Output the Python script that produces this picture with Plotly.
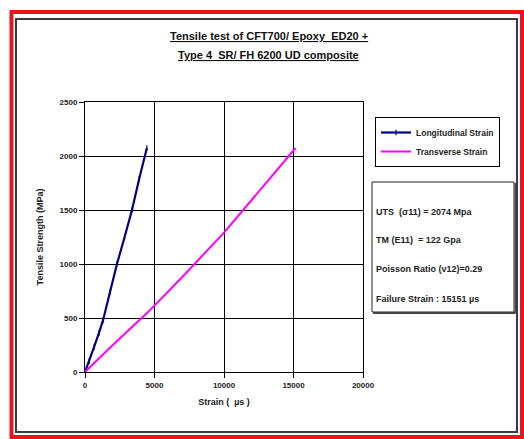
import plotly.graph_objects as go

# ---------------- data ----------------
long_strain = [0, 300, 650, 1000, 1300, 1800, 2300, 2850, 3380, 3900, 4450]
long_stress = [0, 100, 230, 360, 480, 740, 1000, 1250, 1500, 1790, 2074]

trans_strain = [0, 2000, 4500, 7000, 10000, 12500, 15151]
trans_stress = [0, 250, 550, 880, 1290, 1670, 2074]

x_ticks = [0, 5000, 10000, 15000, 20000]
x_labels = ["0", "5000", "10000", "15000", "20000"]
y_ticks = [0, 500, 1000, 1500, 2000, 2500]
y_labels = ["0", "500", "1000", "1500", "2000", "2500"]

series_names = ["Longitudinal Strain", "Transverse Strain"]
title_lines = ["Tensile test of CFT700/ Epoxy  ED20 +", "Type 4  SR/ FH 6200 UD composite"]
info_lines = [
    "UTS  (σ11) = 2074 Mpa",
    "TM (E11)  = 122 Gpa",
    "Poisson Ratio (ν12)=0.29",
    "Failure Strain : 15151 µs",
]

# ---------------- layout geometry ----------------
W, H = 524, 439
L, R, T, B = 85, 161, 102, 67
PW, PH = W - L - R, H - T - B


def px(x):
    return (x - L) / PW


def py(y):
    return (H - B - y) / PH


FONT = "Liberation Sans, Arial, sans-serif"

fig = go.Figure()
fig.add_trace(go.Scatter(
    x=long_strain, y=long_stress, name="<b>" + series_names[0] + "</b>", mode="lines+markers",
    line=dict(color="#000080", width=2.2),
    marker=dict(symbol="line-ns", size=4, line=dict(color="#000080", width=1.2)),
))
fig.add_trace(go.Scatter(
    x=trans_strain, y=trans_stress, name="<b>" + series_names[1] + "</b>", mode="lines",
    line=dict(color="#FF00FF", width=2),
))

shapes = [
    # red outer frame
    dict(type="rect", xref="paper", yref="paper", x0=px(11.5), x1=px(522), y0=py(12), y1=py(437),
         line=dict(color="#E8141B", width=4), layer="below"),
    # dark chart-area frame
    dict(type="rect", xref="paper", yref="paper", x0=px(16), x1=px(517), y0=py(19), y1=py(432),
         line=dict(color="#3a3a3a", width=2), layer="below"),
    # info box
    dict(type="rect", xref="paper", yref="paper", x0=px(372), x1=px(514), y0=py(182), y1=py(312),
         line=dict(color="#222222", width=1), fillcolor="white"),
    dict(type="line", xref="paper", yref="paper", x0=px(373), x1=px(515.5), y0=py(313), y1=py(313),
         line=dict(color="#444444", width=2)),
    dict(type="line", xref="paper", yref="paper", x0=px(515.5), x1=px(515.5), y0=py(183), y1=py(313),
         line=dict(color="#444444", width=2)),
]

annotations = [
    dict(xref="paper", yref="paper", x=px(269), y=py(36), text="<b><u>" + title_lines[0] + "</u></b>",
         showarrow=False, font=dict(family=FONT, size=11, color="#111"), xanchor="center", yanchor="middle"),
    dict(xref="paper", yref="paper", x=px(268), y=py(55), text="<b><u>" + title_lines[1] + "</u></b>",
         showarrow=False, font=dict(family=FONT, size=11, color="#111"), xanchor="center", yanchor="middle"),
]
info_y = [212, 240, 269, 299]
for t, yy in zip(info_lines, info_y):
    annotations.append(dict(xref="paper", yref="paper", x=px(374), y=py(yy), text="<b>" + t + "</b>",
                            showarrow=False, font=dict(family=FONT, size=9, color="#222"),
                            xanchor="left", yanchor="middle"))

axis_common = dict(
    showline=True, linecolor="black", linewidth=1, mirror=True,
    showgrid=True, gridcolor="black", gridwidth=1,
    ticks="outside", ticklen=5, tickcolor="black", tickwidth=1,
    tickfont=dict(family=FONT, size=8, color="#222"),
    zeroline=False,
)

fig.update_layout(
    width=W, height=H,
    margin=dict(l=L, r=R, t=T, b=B),
    paper_bgcolor="white", plot_bgcolor="white",
    showlegend=True,
    legend=dict(x=px(375), y=py(117), xanchor="left", yanchor="top",
                bordercolor="black", borderwidth=1, bgcolor="white",
                font=dict(family=FONT, size=8.5, color="#222"),
                tracegroupgap=0, itemwidth=30),
    xaxis=dict(range=[0, 20000], tickvals=x_ticks, ticktext=["<b>%s</b>" % s for s in x_labels],
               title=dict(text="<b>Strain (  µs )</b>", font=dict(family=FONT, size=9, color="#222"), standoff=10),
               **axis_common),
    yaxis=dict(range=[0, 2500], tickvals=y_ticks, ticktext=["<b>%s</b>" % s for s in y_labels],
               title=dict(text="<b>Tensile Strength (MPa)</b>", font=dict(family=FONT, size=9, color="#222"), standoff=14),
               **axis_common),
    shapes=shapes,
    annotations=annotations,
)

fig.write_html("out.html")
